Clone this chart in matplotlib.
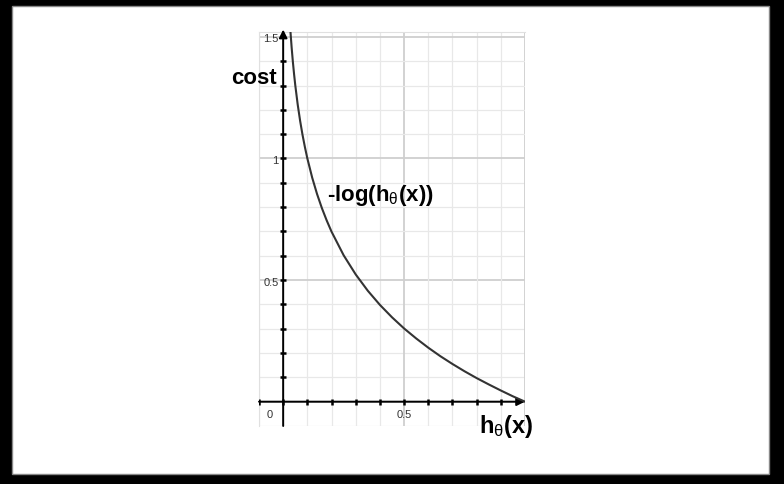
import matplotlib.pyplot as plt
from matplotlib.patches import Rectangle

# points: cost = -log(h)
h_values = [0.030, 0.035, 0.040, 0.045, 0.050, 0.060, 0.070, 0.080, 0.090, 0.100,
            0.120, 0.140, 0.160, 0.180, 0.200, 0.250, 0.300, 0.350, 0.400, 0.450,
            0.500, 0.550, 0.600, 0.650, 0.700, 0.750, 0.800, 0.850, 0.900, 0.950, 1.000]
cost_values = [1.523, 1.456, 1.398, 1.347, 1.301, 1.222, 1.155, 1.097, 1.046, 1.000,
               0.921, 0.854, 0.796, 0.745, 0.699, 0.602, 0.523, 0.456, 0.398, 0.347,
               0.301, 0.260, 0.222, 0.187, 0.155, 0.125, 0.097, 0.071, 0.046, 0.022, 0.000]

minor_ticks = [round(0.1 * i, 1) for i in range(-1, 16)]
x_tick_labels = {0.5: '0.5'}
y_tick_labels = {0.5: '0.5', 1.0: '1', 1.5: '1.5'}

plt.rcParams['font.family'] = ['Liberation Sans', 'DejaVu Sans']
plt.rcParams['mathtext.fontset'] = 'custom'
plt.rcParams['mathtext.rm'] = 'Liberation Sans'
plt.rcParams['mathtext.it'] = 'Liberation Sans'

fig = plt.figure(figsize=(7.84, 4.85), dpi=100, facecolor='black')
fig.patches.append(Rectangle((12 / 784, 1 - 475 / 485), 757 / 784, 468 / 485,
                             transform=fig.transFigure, facecolor='white',
                             edgecolor='#888888', linewidth=1.0, zorder=-10))

ax = fig.add_axes([259 / 784, 58 / 485, 266 / 784, 394 / 485])
ax.set_zorder(1)
ax.set_facecolor('none')
ax.set_xlim(-0.1, 1.0)
ax.set_ylim(-0.1, 1.52)

# grid
for v in minor_ticks:
    major = abs(v * 2 - round(v * 2)) < 1e-9
    col = '#cfcfcf' if major else '#e8e8e8'
    lw = 1.3 if major else 0.9
    if -0.1 <= v <= 1.0:
        ax.axvline(v, color=col, lw=lw, zorder=1)
    if -0.1 <= v <= 1.52:
        ax.axhline(v, color=col, lw=lw, zorder=1)

for s in ['right', 'bottom']:
    ax.spines[s].set_visible(False)
for s in ['left', 'top']:
    ax.spines[s].set_color('#e0e0e0')
ax.set_xticks([])
ax.set_yticks([])

# axes with arrows
ax.annotate('', xy=(1.0, 0), xytext=(-0.1, 0), annotation_clip=False,
            arrowprops=dict(arrowstyle='-|>', color='black', lw=1.4,
                            mutation_scale=12, shrinkA=0, shrinkB=0), zorder=4)
ax.annotate('', xy=(0, 1.53), xytext=(0, -0.1), annotation_clip=False,
            arrowprops=dict(arrowstyle='-|>', color='black', lw=1.4,
                            mutation_scale=12, shrinkA=0, shrinkB=0), zorder=4)
xt = [v for v in minor_ticks if -0.1 <= v <= 0.9]
ax.plot(xt, [0] * len(xt), ls='none', marker='|', ms=4, mew=1.8, color='black', zorder=4)
yt = [v for v in minor_ticks if 0 < v <= 1.4]
ax.plot([0] * len(yt), yt, ls='none', marker='_', ms=4, mew=1.8, color='black', zorder=4)

ax.plot(h_values, cost_values, color='#333333', lw=1.5, zorder=5, clip_on=True)

# tick labels
ax.text(-0.055, -0.052, '0', ha='center', va='center', fontsize=8, color='#333333')
for v, t in x_tick_labels.items():
    ax.text(v, -0.052, t, ha='center', va='center', fontsize=8, color='#333333')
for v, t in y_tick_labels.items():
    ax.text(-0.018, v - 0.006, t, ha='right', va='center', fontsize=8, color='#333333')

fig.text(254 / 784, 1 - 78 / 485, 'cost', ha='center', va='center',
         fontsize=16, fontweight='bold')
fig.text(327 / 784, 1 - 195 / 485, r'-log(h$_\theta$(x))', ha='left', va='center',
         fontsize=16, fontweight='bold')
fig.text(506 / 784, 1 - 427 / 485, r'h$_\theta$(x)', ha='center', va='center',
         fontsize=17, fontweight='bold')

fig.savefig('out.png', dpi=100, facecolor=fig.get_facecolor())
